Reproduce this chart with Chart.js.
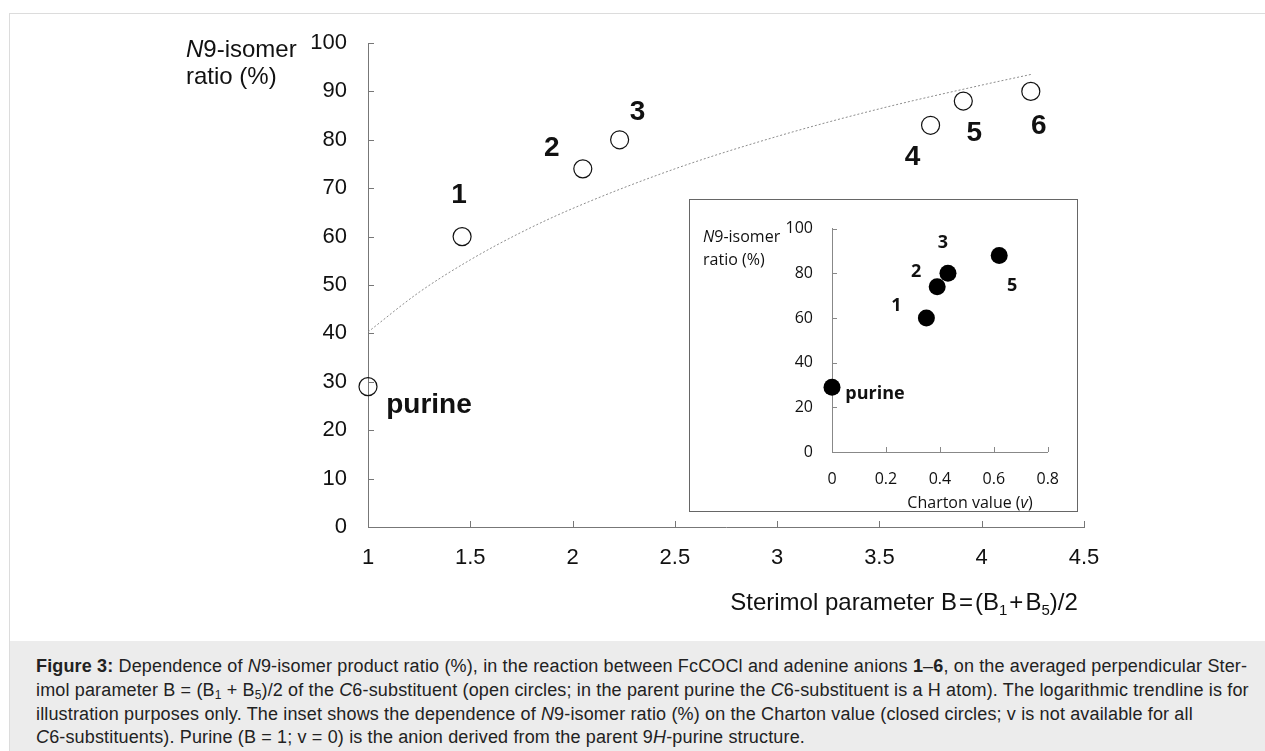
<!DOCTYPE html>
<html>
<head>
<meta charset="utf-8">
<script src="https://cdn.jsdelivr.net/npm/chart.js@4.4.1/dist/chart.umd.min.js"></script>
<style>
    body { margin: 0; background: #fff; font-family: "Liberation Sans", Arial, sans-serif; color: #111; }
    #frame { position: absolute; left: 9px; top: 13px; width: 1270px; height: 760px; border: 1px solid #dcdcdc; }
    #main { position: absolute; left: 0; top: 0; }
    #insetBox { position: absolute; left: 689px; top: 199px; width: 387px; height: 311px; border: 1px solid #666; background: #fff; }
    #inset { position: absolute; left: 0; top: 0; }
    .ytitle { position: absolute; left: 186px; top: 35px; font-size: 24px; line-height: 27px; white-space: nowrap; }
    .xtitle { position: absolute; left: 904px; top: 588px; transform: translateX(-50%); font-size: 24px; line-height: 27px; white-space: nowrap; }
    .xtitle sub { font-size: 15px; vertical-align: -5px; line-height: 0; }
    .iy { position: absolute; left: 13px; top: 25px; font-family: "Open Sans", sans-serif; font-size: 16px; line-height: 23px; white-space: nowrap; color: #111; }
    .ix { position: absolute; left: 280px; top: 291px; transform: translateX(-50%); font-family: "Open Sans", sans-serif; font-size: 16px; line-height: 22px; white-space: nowrap; color: #111; }
    #caption { position: absolute; left: 10px; top: 641px; width: 1255px; height: 110px; background: #ececec; }
    #caption p { margin: 0; position: absolute; left: 26px; top: 14px; font-size: 18px; letter-spacing: 0.15px; line-height: 23.8px; white-space: nowrap; color: #222; }
    #caption sub { font-size: 12px; vertical-align: -3px; line-height: 0; }
</style>
</head>
<body>
<div id="frame"></div>
<canvas id="main" width="1265" height="640"></canvas>
<div class="ytitle"><i>N</i>9-isomer<br>ratio (%)</div>
<div class="xtitle">Sterimol parameter B&#8202;=&#8202;(B<sub>1</sub>&#8202;+&#8202;B<sub>5</sub>)/2</div>
<div id="insetBox">
    <canvas id="inset" width="387" height="311"></canvas>
    <div class="iy"><i>N</i>9-isomer<br>ratio (%)</div>
    <div class="ix">Charton value (<i>v</i>)</div>
</div>
<div id="caption"><p><b>Figure 3:</b> Dependence of <i>N</i>9-isomer product ratio (%), in the reaction between FcCOCl and adenine anions <b>1</b>–<b>6</b>, on the averaged perpendicular Ster-<br>imol parameter B = (B<sub>1</sub> + B<sub>5</sub>)/2 of the <i>C</i>6-substituent (open circles; in the parent purine the <i>C</i>6-substituent is a H atom). The logarithmic trendline is for<br>illustration purposes only. The inset shows the dependence of <i>N</i>9-isomer ratio (%) on the Charton value (closed circles; v is not available for all<br><i>C</i>6-substituents). Purine (B = 1; v = 0) is the anion derived from the parent 9<i>H</i>-purine structure.</p></div>

<script>
// main plot: sterimol parameter vs N9 ratio
const mainNames  = ['purine', '1', '2', '3', '4', '5', '6']
const sterimol   = [1, 1.46, 2.05, 2.23, 3.75, 3.91, 4.24]
const ratioMain  = [29, 60, 74, 80, 83, 88, 90]

// dotted log trendline
const trendB     = [1, 1.25, 1.5, 1.75, 2, 2.5, 3, 3.5, 4, 4.24]
const trendRatio = [40.3, 48.5, 55.2, 60.9, 65.8, 74.0, 80.7, 86.4, 91.3, 93.5]

// inset: Charton value vs N9 ratio
const insetNames = ['purine', '1', '2', '3', '5']
const charton    = [0, 0.35, 0.39, 0.43, 0.62]
const ratioInset = [29, 60, 74, 80, 88]

// label offsets from the marker centre (px)
const mainShift  = [[61, 19], [-3, -41], [-31, -21], [18, -28], [-18, 32], [11, 32], [8, 35]]
const insetShift = [[43, 7], [-30, -12], [-21, -15], [-5, -30], [13, 30]]

const toPoints = (xs, ys) => xs.map((x, i) => ({ x: x, y: ys[i] }))
const plainNum = (v) => String(+Number(v).toFixed(2))

// tick marks pointing into the plot area
const innerTicks = {
    id: 'innerTicks',
    afterDraw(chart, args, opts) {
        const ctx = chart.ctx
        const area = chart.chartArea
        ctx.save()
        ctx.strokeStyle = opts.color
        ctx.lineWidth = 1
        ctx.beginPath()
        chart.scales.x.ticks.forEach((t) => {
            let px = Math.round(chart.scales.x.getPixelForValue(t.value)) + 0.5
            ctx.moveTo(px, area.bottom)
            ctx.lineTo(px, area.bottom - opts.size)
        })
        chart.scales.y.ticks.forEach((t) => {
            let py = Math.round(chart.scales.y.getPixelForValue(t.value)) + 0.5
            ctx.moveTo(area.left, py)
            ctx.lineTo(area.left + opts.size, py)
        })
        ctx.stroke()
        ctx.restore()
    }
}

const pointNames = {
    id: 'pointNames',
    afterDatasetsDraw(chart, args, opts) {
        const ctx = chart.ctx
        const meta = chart.getDatasetMeta(0)
        ctx.save()
        ctx.fillStyle = '#111'
        ctx.font = opts.font
        ctx.textAlign = 'center'
        ctx.textBaseline = 'middle'
        meta.data.forEach((el, i) => {
            let s = opts.shift[i]
            ctx.fillText(opts.names[i], el.x + s[0], el.y + s[1])
        })
        ctx.restore()
    }
}

const axisFont = { family: '"Liberation Sans", Arial, sans-serif', size: 22 }

new Chart(document.getElementById('main'), {
    type: 'scatter',
    data: {
        datasets: [
            {
                data: toPoints(sterimol, ratioMain),
                pointRadius: 9,
                pointBackgroundColor: 'rgba(255,255,255,0)',
                pointBorderColor: '#111',
                pointBorderWidth: 1.2,
                clip: false,
                order: 0
            },
            {
                type: 'line',
                data: toPoints(trendB, trendRatio),
                borderColor: '#8c8c8c',
                borderWidth: 1,
                borderDash: [2, 2],
                pointRadius: 0,
                cubicInterpolationMode: 'monotone',
                fill: false,
                order: 1
            }
        ]
    },
    options: {
        responsive: false,
        animation: false,
        layout: { padding: { left: 0, top: 43, right: 181, bottom: 0 } },
        plugins: {
            legend: { display: false },
            tooltip: { enabled: false },
            innerTicks: { color: '#777', size: 6 },
            pointNames: { names: mainNames, shift: mainShift, font: 'bold 28px "Liberation Sans", Arial, sans-serif' }
        },
        scales: {
            x: {
                type: 'linear', min: 1, max: 4.5,
                ticks: { stepSize: 0.5, padding: 18, color: '#111', font: axisFont, maxRotation: 0, callback: plainNum },
                grid: { display: false, drawTicks: false },
                border: { color: '#777', width: 1 },
                afterFit: (s) => { s.height = 113 }
            },
            y: {
                min: 0, max: 100,
                ticks: { stepSize: 10, padding: 21, color: '#111', font: axisFont },
                grid: { display: false, drawTicks: false },
                border: { color: '#777', width: 1 },
                afterFit: (s) => { s.width = 368 }
            }
        }
    },
    plugins: [innerTicks, pointNames]
})

const insetFont = { family: '"Open Sans", sans-serif', size: 16 }

new Chart(document.getElementById('inset'), {
    type: 'scatter',
    data: {
        datasets: [{
            data: toPoints(charton, ratioInset),
            pointRadius: 8.5,
            pointBackgroundColor: '#000',
            pointBorderColor: '#000',
            pointBorderWidth: 0,
            clip: false
        }]
    },
    options: {
        responsive: false,
        animation: false,
        layout: { padding: { left: 0, top: 13, right: 19, bottom: 0 } },
        plugins: {
            legend: { display: false },
            tooltip: { enabled: false },
            innerTicks: { color: '#888', size: 5 },
            pointNames: { names: insetNames, shift: insetShift, font: 'bold 18px "Open Sans", sans-serif' }
        },
        scales: {
            x: {
                type: 'linear', min: 0, max: 0.8,
                ticks: { stepSize: 0.2, padding: 18, color: '#111', font: insetFont, maxRotation: 0, callback: plainNum },
                grid: { display: false, drawTicks: false },
                border: { color: '#888', width: 1 },
                afterFit: (s) => { s.height = 59 }
            },
            y: {
                min: 0, max: 100,
                ticks: { stepSize: 20, padding: 19, color: '#111', font: insetFont },
                grid: { display: false, drawTicks: false },
                border: { color: '#888', width: 1 },
                afterFit: (s) => { s.width = 142 }
            }
        }
    },
    plugins: [innerTicks, pointNames]
})
</script>
</body>
</html>
